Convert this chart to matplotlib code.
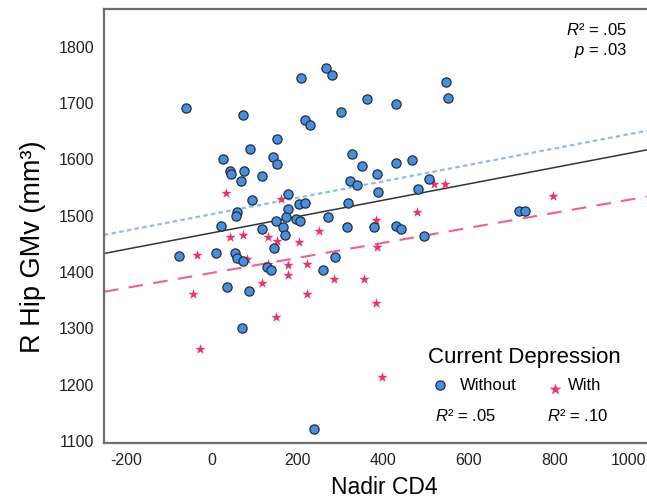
import numpy as np
import matplotlib.pyplot as plt
from matplotlib.transforms import ScaledTranslation

plt.rcParams['font.family'] = ['Liberation Sans', 'DejaVu Sans']
plt.rcParams['mathtext.fontset'] = 'custom'
plt.rcParams['mathtext.rm'] = 'Liberation Sans'
plt.rcParams['mathtext.it'] = 'Liberation Sans:italic'
plt.rcParams['axes.unicode_minus'] = False

# 无抑郁组 (Without)
without_cd4 = [-61, 72, 208, 267, 281, 363, 302, 218, 229, 153, 88, 26, 143, 152,
               42, 44, 76, 68, 118, 328, 350, 385, 323, 339, 389, 178, 93, 204,
               218, 317, 178, 58, 57, 270, 149, 172, 196, 206, 22, 118, 167, 315,
               379, 171, 144, 547, 552, 431, 430, 467, 481, 508, 717, 730, 431,
               442, 496, -77, 9, 53, 58, 72, 128, 139, 288, 259, 35, 87, 70, 238]
without_gmv = [1692, 1679, 1744, 1763, 1750, 1708, 1684, 1670, 1661, 1637, 1619,
               1601, 1604, 1592, 1579, 1574, 1579, 1562, 1570, 1609, 1589, 1574,
               1562, 1554, 1542, 1538, 1528, 1521, 1523, 1523, 1512, 1506, 1500,
               1498, 1491, 1497, 1494, 1490, 1481, 1476, 1480, 1480, 1480, 1466,
               1442, 1738, 1709, 1698, 1593, 1599, 1547, 1565, 1509, 1509, 1482,
               1476, 1464, 1428, 1434, 1434, 1425, 1419, 1409, 1404, 1426, 1404,
               1373, 1367, 1301, 1121]

# 有抑郁组 (With)
with_cd4 = [33, 161, 42, 72, 130, 152, 204, 249, 383, 519, 544, 796, 478, 386,
            -34, 82, 130, 178, 223, 177, 117, 284, 354, 384, -44, 223, 150, -27, 398]
with_gmv = [1541, 1529, 1462, 1466, 1463, 1455, 1453, 1473, 1493, 1556, 1557,
            1535, 1506, 1445, 1430, 1423, 1414, 1412, 1414, 1394, 1381, 1388,
            1387, 1345, 1361, 1361, 1320, 1264, 1214]

# 拟合线端点
fit_x = [-252, 1016]
fit_total = [1433, 1617]
fit_without = [1466, 1651]
fit_with = [1365, 1534]

x_ticks = [-200, 0, 200, 400, 600, 800, 1000]
y_ticks = [1100, 1200, 1300, 1400, 1500, 1600, 1700, 1800]

blue = '#4A8FDB'
pink = '#E8336B'

fig = plt.figure(figsize=(6.47, 5.0), dpi=100)
ax = fig.add_axes([104 / 647, 1 - 443 / 500, 1 - 104 / 647, (443 - 8.5) / 500])

ax.plot(fit_x, fit_without, color='#8BBBF2', lw=1.6, ls=(0, (2, 1.5)), zorder=1)
ax.plot(fit_x, fit_total, color='#333333', lw=1.1, zorder=1)
ax.plot(fit_x, fit_with, color='#F0628A', lw=1.5, ls=(0, (7, 5)), zorder=1)

ax.scatter(with_cd4, with_gmv, marker='*', s=60, color=pink, linewidths=0, zorder=2)
ax.scatter(without_cd4, without_gmv, marker='o', s=44, facecolor=blue,
           edgecolor='#1F2F45', linewidths=0.9, zorder=3)

ax.set_xlim(-252, 1016)
ax.set_ylim(1096.5, 1868)
ax.set_xticks(x_ticks)
ax.set_yticks(y_ticks)
ax.tick_params(length=0, labelsize=11.5, pad=7, colors='#222222')

# 最后一个刻度标签往左挪，免得被裁掉
last = ax.get_xticklabels()[-1]
last.set_horizontalalignment('right')
last.set_transform(last.get_transform() + ScaledTranslation(6 / 100, 0, fig.dpi_scale_trans))

for s in ['left', 'bottom', 'top']:
    ax.spines[s].set_color('#6E6E6E')
    ax.spines[s].set_linewidth(1.6)
ax.spines['right'].set_visible(False)

ax.set_xlabel('Nadir CD4', fontsize=16.5, va='center')
ax.set_ylabel('R Hip GMv (mm³)', fontsize=19.5, va='center')
ax.xaxis.set_label_coords(0.517, (443 - 487) / 434.5)
ax.yaxis.set_label_coords((33 - 104) / 543, (443 - 247) / 434.5)

# 右上角统计量
fig.text(627 / 647, 1 - 30 / 500, r'$R$² = .05', ha='right', va='center', fontsize=12)
fig.text(627 / 647, 1 - 50 / 500, r'$p$ = .03', ha='right', va='center', fontsize=12)

# 图例
fig.text(524.5 / 647, 1 - 358 / 500, 'Current Depression', ha='center', va='center', fontsize=16)
fig.text(460 / 647, 1 - 386 / 500, 'Without', ha='left', va='center', fontsize=12)
fig.text(568 / 647, 1 - 386 / 500, 'With', ha='left', va='center', fontsize=12)
fig.text(435 / 647, 1 - 416 / 500, r'$R$² = .05', ha='left', va='center', fontsize=12)
fig.text(547 / 647, 1 - 416 / 500, r'$R$² = .10', ha='left', va='center', fontsize=12)
ax.scatter([440 / 647], [1 - 385 / 500], transform=fig.transFigure, marker='o', s=44,
           facecolor=blue, edgecolor='#1F2F45', linewidths=0.9, clip_on=False)
ax.scatter([555 / 647], [1 - 389 / 500], transform=fig.transFigure, marker='*', s=80,
           color=pink, linewidths=0, clip_on=False)

fig.savefig('out.png', dpi=100)
